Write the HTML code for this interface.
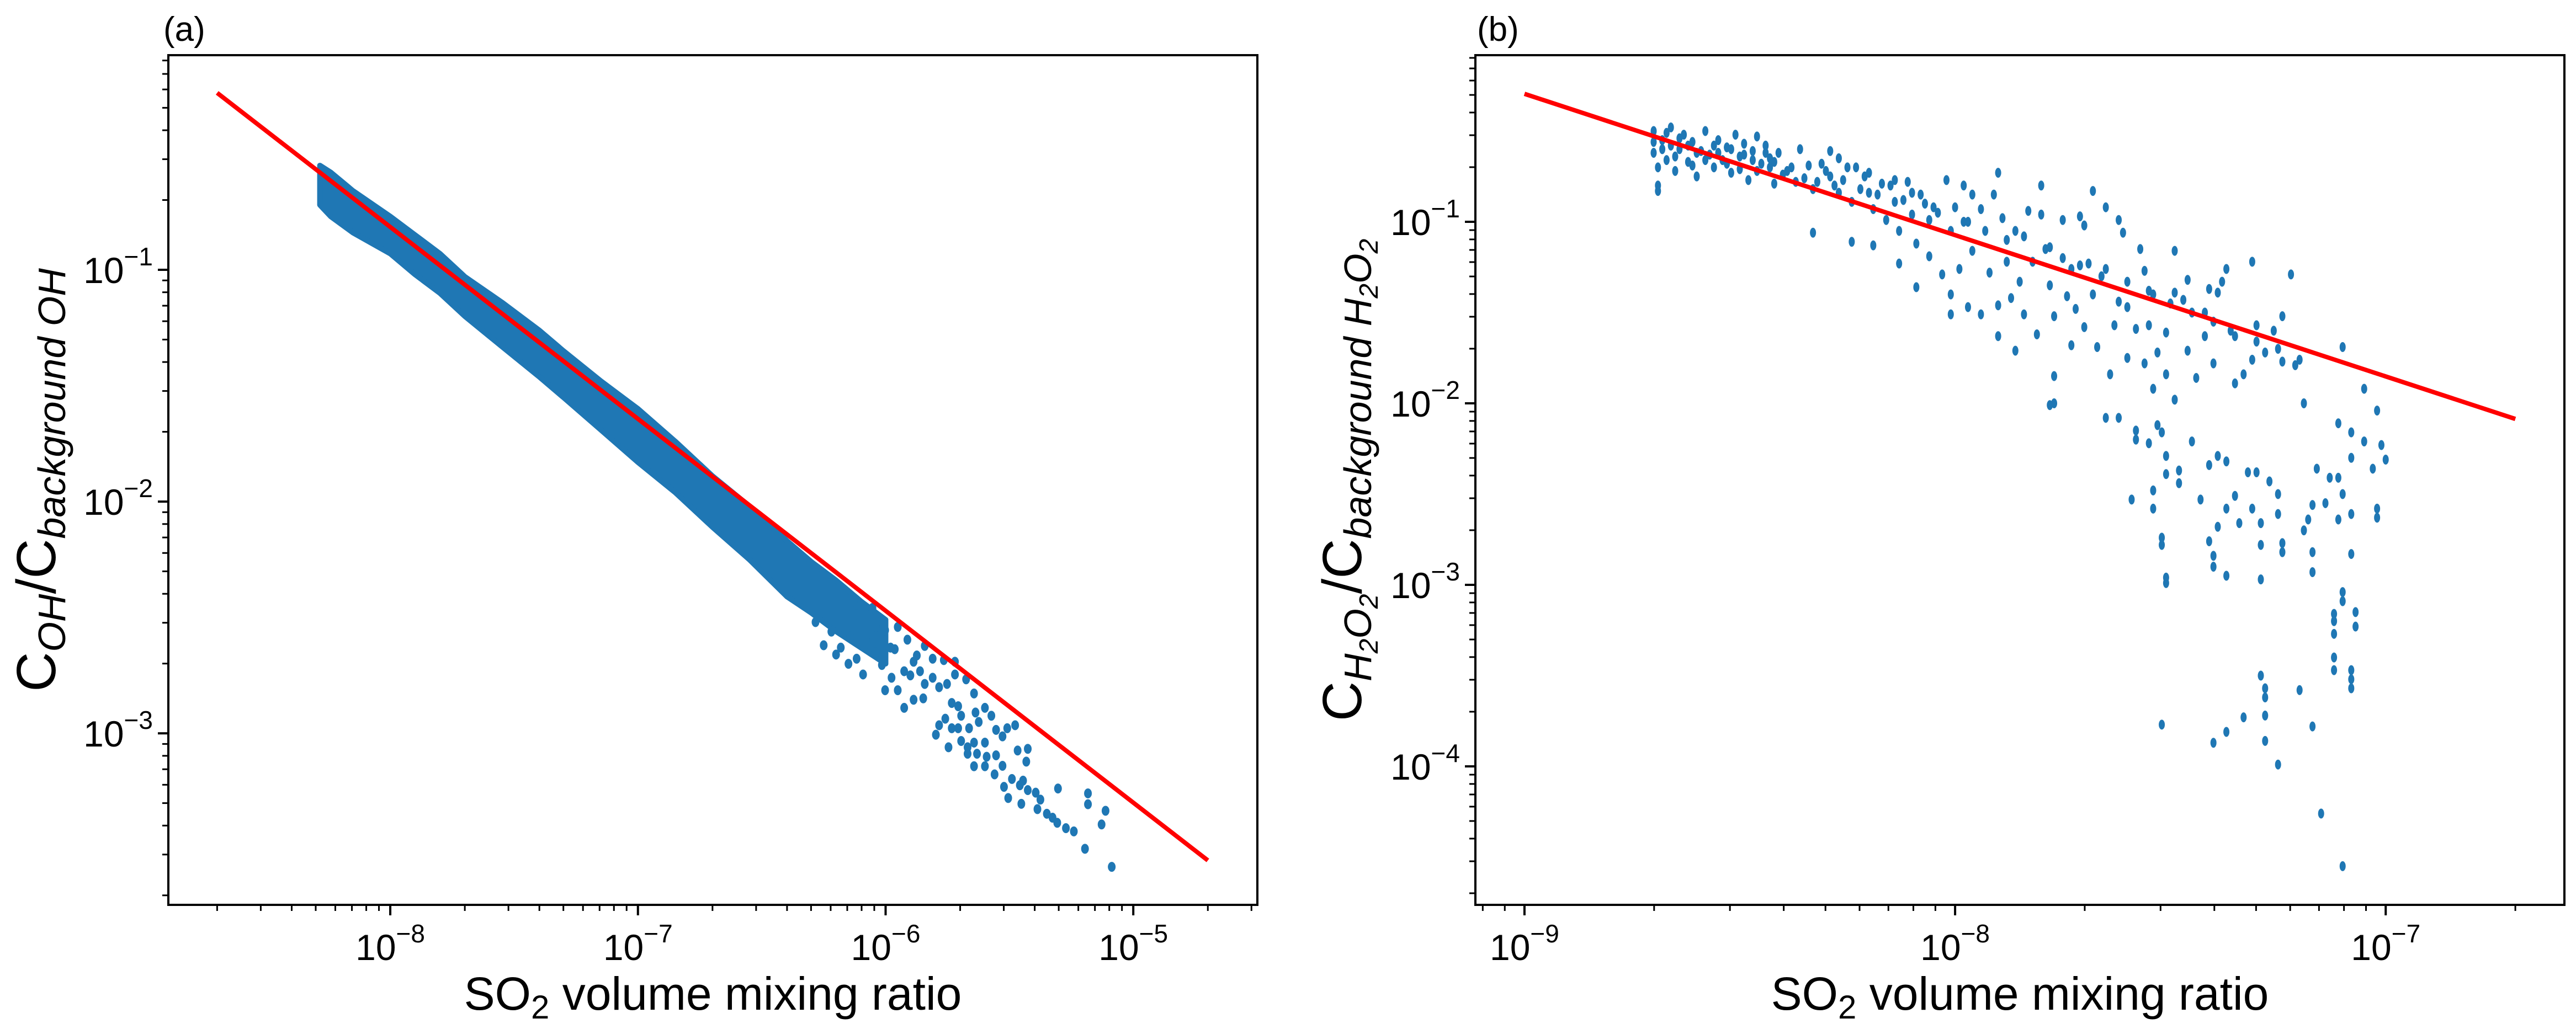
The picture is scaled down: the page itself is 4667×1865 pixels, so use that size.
<!DOCTYPE html>
<html><head><meta charset="utf-8"><style>
html,body{margin:0;padding:0;background:#fff;}
svg{display:block;font-family:"Liberation Sans",sans-serif;}
</style></head><body>
<svg id="fig" width="4667" height="1865" viewBox="0 0 4667 1865" xmlns="http://www.w3.org/2000/svg">
<rect x="0" y="0" width="4667" height="1865" fill="#fff"/>
<g id="panelA"></g>
<g id="panelB"></g>
</svg>
<script>
// ---------- Panel (a) data (log10 values) ----------
const aBandX  = [-8.284, -8.24, -8.15, -8.0, -7.90, -7.80, -7.699, -7.55, -7.40, -7.301, -7.15, -7.0, -6.85, -6.699, -6.55, -6.398, -6.30, -6.20, -6.10, -6.00];
const aBandLo = [-0.72, -0.77, -0.84, -0.93, -1.02, -1.10, -1.20, -1.33, -1.46, -1.55, -1.69, -1.83, -1.96, -2.11, -2.25, -2.41, -2.48, -2.56, -2.63, -2.70];
const aBandHi = [-0.55, -0.58, -0.66, -0.77, -0.85, -0.93, -1.03, -1.14, -1.26, -1.35, -1.48, -1.60, -1.74, -1.89, -2.02, -2.17, -2.26, -2.34, -2.43, -2.51];
const aTailX = [-5.195,-5.128,-5.112,-5.183,-5.183,-5.240,-5.272,-5.307,-5.326,-5.349,-5.375,-5.387,-5.304,-5.394,-5.426,-5.445,-5.458,-5.490,-5.522,-5.505,-5.452,-5.432,-5.467,-5.426,-5.528,-5.560,-5.599,-5.643,-5.554,-5.592,-5.631,-5.669,-5.669,-5.477,-5.509,-5.554,-5.528,-5.599,-5.643,-5.695,-5.663,-5.624,-5.599,-5.573,-5.637,-5.695,-5.707,-5.733,-5.746,-5.797,-5.784,-5.759,-5.733,-5.707,-5.643,-5.675,-5.720,-5.752,-5.784,-5.810,-5.842,-5.848,-5.887,-5.925,-5.951,-6.002,-5.976,-5.925,-5.887,-5.861,-5.842,-5.810,-5.765,-5.720,-5.874,-5.912,-5.963,-6.015,-6.040,-6.091,-6.117,-6.066,-6.002,-5.951,-6.040,-6.117,-6.143,-6.181,-6.219,-6.283,-6.091,-6.053,-6.130,-5.087,-6.25,-6.20,-6.15,-6.05,-5.98,-5.90];
const aTailY = [-3.498,-3.393,-3.334,-3.306,-3.259,-3.423,-3.409,-3.386,-3.364,-3.347,-3.286,-3.327,-3.238,-3.256,-3.245,-3.204,-3.224,-3.197,-3.231,-3.279,-3.304,-3.122,-3.074,-3.067,-3.140,-3.177,-3.142,-3.142,-3.095,-3.101,-3.088,-3.088,-3.060,-2.965,-2.978,-2.985,-3.013,-3.040,-3.040,-3.033,-2.978,-2.951,-2.890,-2.924,-2.910,-2.924,-2.978,-2.978,-3.060,-3.006,-2.965,-2.937,-2.869,-2.883,-2.828,-2.767,-2.746,-2.787,-2.801,-2.760,-2.787,-2.849,-2.855,-2.890,-2.814,-2.814,-2.760,-2.732,-2.691,-2.732,-2.623,-2.678,-2.684,-2.691,-2.664,-2.596,-2.637,-2.705,-2.650,-2.746,-2.678,-2.596,-2.555,-2.541,-2.541,-2.486,-2.582,-2.630,-2.561,-2.520,-2.459,-2.459,-2.432,-3.576,-2.62,-2.66,-2.70,-2.60,-2.63,-2.75];
const aFitX = [2e-9, 2e-5];
const aFitY = [0.58, 2.83e-4];
const aXTicks = [-8,-7,-6,-5];
const aXTickLabels = ["\u22128","\u22127","\u22126","\u22125"];
const aYTicks = [-1,-2,-3];
const aYTickLabels = ["\u22121","\u22122","\u22123"];

// ---------- Panel (b) data (log10 values) ----------
const bX = [-8.70,-8.70,-8.69,-8.69,-8.69,-8.68,-8.67,-8.66,-8.66,-8.65,-8.64,-8.63,-8.62,-8.61,-8.60,-8.60,-8.58,-8.57,-8.56,-8.55,-8.54,-8.53,-8.52,-8.51,-8.50,-8.49,-8.48,-8.47,-8.46,-8.45,-8.44,
-8.70,-8.68,-8.67,-8.65,-8.64,-8.62,-8.61,-8.59,-8.58,-8.56,-8.55,-8.53,-8.52,-8.50,-8.49,-8.47,-8.46,-8.44,-8.43,-8.42,-8.40,-8.38,-8.35,-8.34,-8.32,-8.30,-8.28,-8.26,-8.25,-8.22,-8.21,-8.18,-8.15,-8.12,-8.10,-8.07,-8.04,-8.00,-7.97,-7.93,-7.88,-7.84,-7.79,-7.75,-7.71,-7.66,-7.60,-7.55,-7.50,-7.45,-7.40,-7.36,-7.30,-7.25,-7.20,
-8.43,-8.41,-8.42,-8.39,-8.36,-8.37,-8.33,-8.33,-8.31,-8.29,-8.29,-8.27,-8.27,-8.24,-8.24,-8.23,-8.20,-8.20,-8.19,-8.19,-8.17,-8.16,-8.14,-8.14,-8.13,-8.13,-8.11,-8.10,-8.09,-8.08,-8.09,-8.06,-8.06,-8.05,-8.03,-8.02,-8.01,-8.01,-8.01,-7.99,-7.98,-7.98,-7.97,-7.96,-7.96,-7.94,-7.94,-7.92,-7.91,-7.90,-7.90,-7.90,-7.89,-7.88,-7.87,-7.86,-7.86,-7.85,-7.84,-7.83,-7.82,-7.81,-7.80,-7.80,-7.78,-7.78,-7.77,-7.77,-7.77,-7.75,-7.74,-7.73,-7.73,-7.72,-7.71,-7.70,-7.70,-7.69,-7.68,-7.68,-7.67,-7.65,-7.65,-7.64,-7.63,-7.62,-7.62,-7.61,-7.60,-7.60,-7.58,-7.57,-7.56,-7.56,-7.55,-7.54,-7.54,-7.53,-7.51,-7.51,-7.49,-7.49,-7.49,-7.47,-7.46,-7.46,-7.44,-7.42,-7.42,-7.41,-7.40,-7.39,-7.38,-7.37,-7.35,-7.35,-7.33,-7.31,-7.31,-7.30,-7.28,-7.26,-7.24,-7.24,-7.22,-7.21,-7.19,
-7.78,-7.65,-7.62,-7.58,-7.58,-7.55,-7.53,-7.52,-7.51,-7.51,-7.48,-7.48,-7.45,-7.59,-7.54,-7.54,-7.52,-7.52,-7.51,-7.51,-7.52,-7.43,-7.41,-7.41,-7.40,-7.40,-7.40,-7.39,-7.39,-7.37,-7.37,-7.37,-7.37,-7.35,-7.34,-7.33,-7.32,-7.31,-7.30,-7.29,-7.29,-7.29,-7.29,-7.28,-7.28,-7.28,-7.28,-7.27,-7.25,-7.25,-7.25,-7.24,-7.24,-7.20,-7.19,-7.18,-7.17,-7.17,-7.17,-7.17,-7.16,-7.15,-7.14,-7.13,-7.11,-7.12,-7.12,-7.12,-7.12,-7.12,-7.11,-7.11,-7.10,-7.10,-7.10,-7.10,-7.08,-7.08,-7.08,-7.08,-7.07,-7.07,-7.08,-7.08,-7.08,-7.10,-7.05,-7.05,-7.03,-7.02,-7.02,-7.02,-7.01,-7.00];
const bY = [-0.50,-0.62,-0.70,-0.80,-0.83,-0.55,-0.66,-0.48,-0.58,-0.72,-0.60,-0.52,-0.67,-0.56,-0.62,-0.75,-0.50,-0.63,-0.70,-0.55,-0.66,-0.59,-0.73,-0.52,-0.64,-0.57,-0.77,-0.61,-0.53,-0.68,-0.58,
-0.56,-0.60,-0.51,-0.64,-0.54,-0.58,-0.69,-0.61,-0.66,-0.58,-0.62,-0.68,-0.60,-0.71,-0.63,-0.66,-0.72,-0.62,-0.70,-0.67,-0.74,-0.70,-0.76,-0.69,-0.78,-0.72,-0.80,-0.77,-0.70,-0.82,-0.75,-0.85,-0.80,-0.88,-0.84,-0.90,-0.95,-0.92,-1.00,-1.05,-1.10,-1.08,-1.15,-1.20,-1.24,-1.30,-1.33,-1.38,-1.45,-1.50,-1.55,-1.60,-1.66,-1.70,-1.76,
-0.65,-0.62,-0.79,-0.72,-0.60,-0.78,-0.82,-1.06,-0.68,-0.61,-0.75,-0.65,-0.84,-0.89,-1.11,-0.70,-0.73,-0.84,-0.93,-1.13,-0.79,-0.99,-0.77,-0.89,-1.05,-1.23,-0.78,-0.96,-1.12,-0.85,-1.36,-0.99,-1.19,-0.92,-1.29,-0.77,-1.05,-1.40,-1.51,-1.26,-0.80,-1.00,-1.47,-0.85,-1.16,-1.51,-0.93,-1.28,-0.85,-1.46,-1.63,-0.73,-0.98,-1.22,-1.42,-1.05,-1.71,-1.33,-1.51,-0.94,-1.22,-1.62,-0.80,-0.96,-1.14,-1.35,-1.85,-2.00,-1.52,-0.99,-1.41,-1.26,-1.68,-1.48,-0.97,-1.02,-1.58,-1.23,-0.83,-1.40,-1.69,-0.92,-1.26,-1.84,-1.57,-0.99,-1.44,-1.06,-1.75,-1.47,-1.59,-1.15,-1.27,-1.78,-1.57,-1.92,-1.40,-1.72,-1.84,-1.61,-1.39,-1.16,-1.98,-1.43,-1.32,-1.71,-1.86,-1.63,-1.50,-1.37,-1.78,-1.39,-1.33,-1.26,-1.89,-1.63,-1.84,-1.22,-1.76,-1.57,-1.72,-1.60,-1.52,-1.77,-1.29,-1.79,-2.00,
-2.01,-2.08,-2.08,-2.15,-2.20,-2.22,-2.12,-2.16,-2.29,-2.39,-2.37,-2.44,-2.21,-2.53,-2.48,-2.58,-2.74,-2.78,-2.96,-2.99,-3.77,-2.53,-2.34,-2.76,-2.84,-2.90,-3.87,-2.68,-2.29,-2.95,-3.81,-2.32,-2.58,-2.51,-2.66,-3.73,-2.38,-2.58,-2.38,-2.66,-2.78,-2.97,-3.50,-3.57,-3.62,-3.72,-3.86,-2.43,-2.61,-2.50,-3.99,-2.77,-2.82,-3.58,-2.70,-2.64,-3.78,-2.56,-2.82,-2.93,-2.36,-4.26,-2.55,-2.41,-2.64,-3.16,-3.20,-3.27,-3.40,-3.47,-2.11,-2.41,-2.50,-3.04,-3.09,-4.55,-2.16,-2.30,-2.61,-2.83,-3.15,-3.23,-3.47,-3.52,-3.57,-1.69,-1.92,-2.21,-2.36,-2.58,-2.63,-2.04,-2.23,-2.31];
const bFitX = [1e-9, 2e-7];
const bFitY = [0.507, 0.0082];
const bXTicks = [-9,-8,-7];
const bXTickLabels = ["\u22129","\u22128","\u22127"];
const bYTicks = [-1,-2,-3,-4];
const bYTickLabels = ["\u22121","\u22122","\u22123","\u22124"];

const NS = "http://www.w3.org/2000/svg";
function mk(tag, attrs, parent){
  const e = document.createElementNS(NS, tag);
  for (const k in attrs) e.setAttribute(k, attrs[k]);
  parent.appendChild(e);
  return e;
}
const BLUE = "#1f77b4";

function makeAxes(box, xr, yr){
  const sx = v => box.l + (v - xr[0]) / (xr[1] - xr[0]) * (box.r - box.l);
  const sy = v => box.b - (v - yr[0]) / (yr[1] - yr[0]) * (box.b - box.t);
  return {sx, sy};
}

function drawTicks(g, box, ax, xr, yr, xTicks, xLabels, yTicks, yLabels){
  for (let d = Math.floor(xr[0]); d <= Math.ceil(xr[1]); d++){
    for (let m = 2; m <= 9; m++){
      const v = d + Math.log10(m);
      if (v < xr[0] || v > xr[1]) continue;
      const x = ax.sx(v);
      const t = mk("line", {x1:x, x2:x, y1:box.b, y2:box.b+11, stroke:"#000","stroke-width":3}, g);
      
      
    }
  }
  for (let d = Math.floor(yr[0]); d <= Math.ceil(yr[1]); d++){
    for (let m = 2; m <= 9; m++){
      const v = d + Math.log10(m);
      if (v < yr[0] || v > yr[1]) continue;
      const y = ax.sy(v);
      const t = mk("line", {x1:box.l-11, x2:box.l, y1:y, y2:y, stroke:"#000","stroke-width":3}, g);
      
      
    }
  }
  xTicks.forEach((v,i)=>{
    const x = ax.sx(v);
    const t = mk("line", {x1:x, x2:x, y1:box.b, y2:box.b+19, stroke:"#000","stroke-width":4}, g);
    
    
    const tx = mk("text", {x:x, y:box.b+100, "font-size":66, "text-anchor":"middle", fill:"#000"}, g);
    
    
    const a = mk("tspan", {}, tx); a.textContent = "10";
    const b = mk("tspan", {dy:-32, "font-size":46}, tx); b.textContent = xLabels[i];
  });
  yTicks.forEach((v,i)=>{
    const y = ax.sy(v);
    const t = mk("line", {x1:box.l-19, x2:box.l, y1:y, y2:y, stroke:"#000","stroke-width":4}, g);
    
    
    const tx = mk("text", {x:box.l-28, y:y+24, "font-size":66, "text-anchor":"end", fill:"#000"}, g);
    
    
    const a = mk("tspan", {}, tx); a.textContent = "10";
    const b = mk("tspan", {dy:-32, "font-size":46}, tx); b.textContent = yLabels[i];
  });
}

function frame(g, box){
  const r = mk("rect", {x:box.l, y:box.t, width:box.r-box.l, height:box.b-box.t, fill:"none", stroke:"#000","stroke-width":4}, g);
  
  
}

function xTitle(g, box){
  const t = mk("text", {x:(box.l+box.r)/2, y:1830, "font-size":84, "text-anchor":"middle", fill:"#000"}, g);
  
  
  const a = mk("tspan", {}, t); a.textContent = "SO";
  const b = mk("tspan", {dy:16, "font-size":60}, t); b.textContent = "2";
  const c = mk("tspan", {dy:-16}, t); c.textContent = " volume mixing ratio";
}

// ---------- Panel A ----------
(function(){
  const g = document.getElementById("panelA");
  const box = {l:305, r:2278, t:100, b:1640};
  const xr = [-8.896, -4.499], yr = [-3.740, -0.074];
  const ax = makeAxes(box, xr, yr);
  let pts = [];
  aBandX.forEach((v,i)=>pts.push(ax.sx(v)+","+ax.sy(aBandHi[i])));
  for (let i = aBandX.length-1; i >= 0; i--) pts.push(ax.sx(aBandX[i])+","+ax.sy(aBandLo[i]));
  const band = mk("polygon", {points:pts.join(" "), fill:BLUE, stroke:BLUE, "stroke-width":10, "stroke-linejoin":"round"}, g);
  
  
  aTailX.forEach((v,i)=>{
    const c = mk("ellipse", {cx:ax.sx(v), cy:ax.sy(aTailY[i]), rx:7, ry:9, fill:BLUE}, g);
    
    
  });
  const fit = mk("line", {x1:ax.sx(Math.log10(aFitX[0])), y1:ax.sy(Math.log10(aFitY[0])), x2:ax.sx(Math.log10(aFitX[1])), y2:ax.sy(Math.log10(aFitY[1])), stroke:"#ff0000","stroke-width":8}, g);
  
  
  frame(g, box);
  drawTicks(g, box, ax, xr, yr, aXTicks, aXTickLabels, aYTicks, aYTickLabels);
  xTitle(g, box);
  const yt = mk("text", {transform:"translate(100,870) rotate(-90)", "font-size":100, "text-anchor":"middle", fill:"#000"}, g);
  
  
  const s1 = mk("tspan", {}, yt); s1.textContent = "C";
  const s2 = mk("tspan", {dy:18, "font-size":70, "font-style":"italic"}, yt); s2.textContent = "OH";
  const s3 = mk("tspan", {dy:-18}, yt); s3.textContent = "/C";
  const s4 = mk("tspan", {dy:18, "font-size":70, "font-style":"italic"}, yt); s4.textContent = "background OH";
  const pl = mk("text", {x:296, y:74, "font-size":62, fill:"#000"}, g);
  
  
  pl.textContent = "(a)";
})();

// ---------- Panel B ----------
(function(){
  const g = document.getElementById("panelB");
  const box = {l:2673, r:4646, t:100, b:1640};
  const xr = [-9.114, -6.585], yr = [-4.763, -0.082];
  const ax = makeAxes(box, xr, yr);
  bX.forEach((v,i)=>{
    const c = mk("ellipse", {cx:ax.sx(v), cy:ax.sy(bY[i]), rx:5.5, ry:9, fill:BLUE}, g);
    
    
  });
  const fit = mk("line", {x1:ax.sx(Math.log10(bFitX[0])), y1:ax.sy(Math.log10(bFitY[0])), x2:ax.sx(Math.log10(bFitX[1])), y2:ax.sy(Math.log10(bFitY[1])), stroke:"#ff0000","stroke-width":8}, g);
  
  
  frame(g, box);
  drawTicks(g, box, ax, xr, yr, bXTicks, bXTickLabels, bYTicks, bYTickLabels);
  xTitle(g, box);
  const yt = mk("text", {transform:"translate(2466,870) rotate(-90)", "font-size":100, "text-anchor":"middle", fill:"#000"}, g);
  
  
  const parts = [
    ["C",0,100,"normal"],["H",18,70,"italic"],["2",12,48,"italic"],["O",-12,70,"italic"],["2",12,48,"italic"],
    ["/C",-30,100,"normal"],["background H",18,70,"italic"],["2",12,48,"italic"],["O",-12,70,"italic"],["2",12,48,"italic"]
  ];
  parts.forEach(p=>{
    const s = mk("tspan", {dy:p[1], "font-size":p[2], "font-style":p[3]}, yt);
    s.textContent = p[0];
  });
  const pl = mk("text", {x:2676, y:74, "font-size":62, fill:"#000"}, g);
  
  
  pl.textContent = "(b)";
})();
</script>
</body></html>
